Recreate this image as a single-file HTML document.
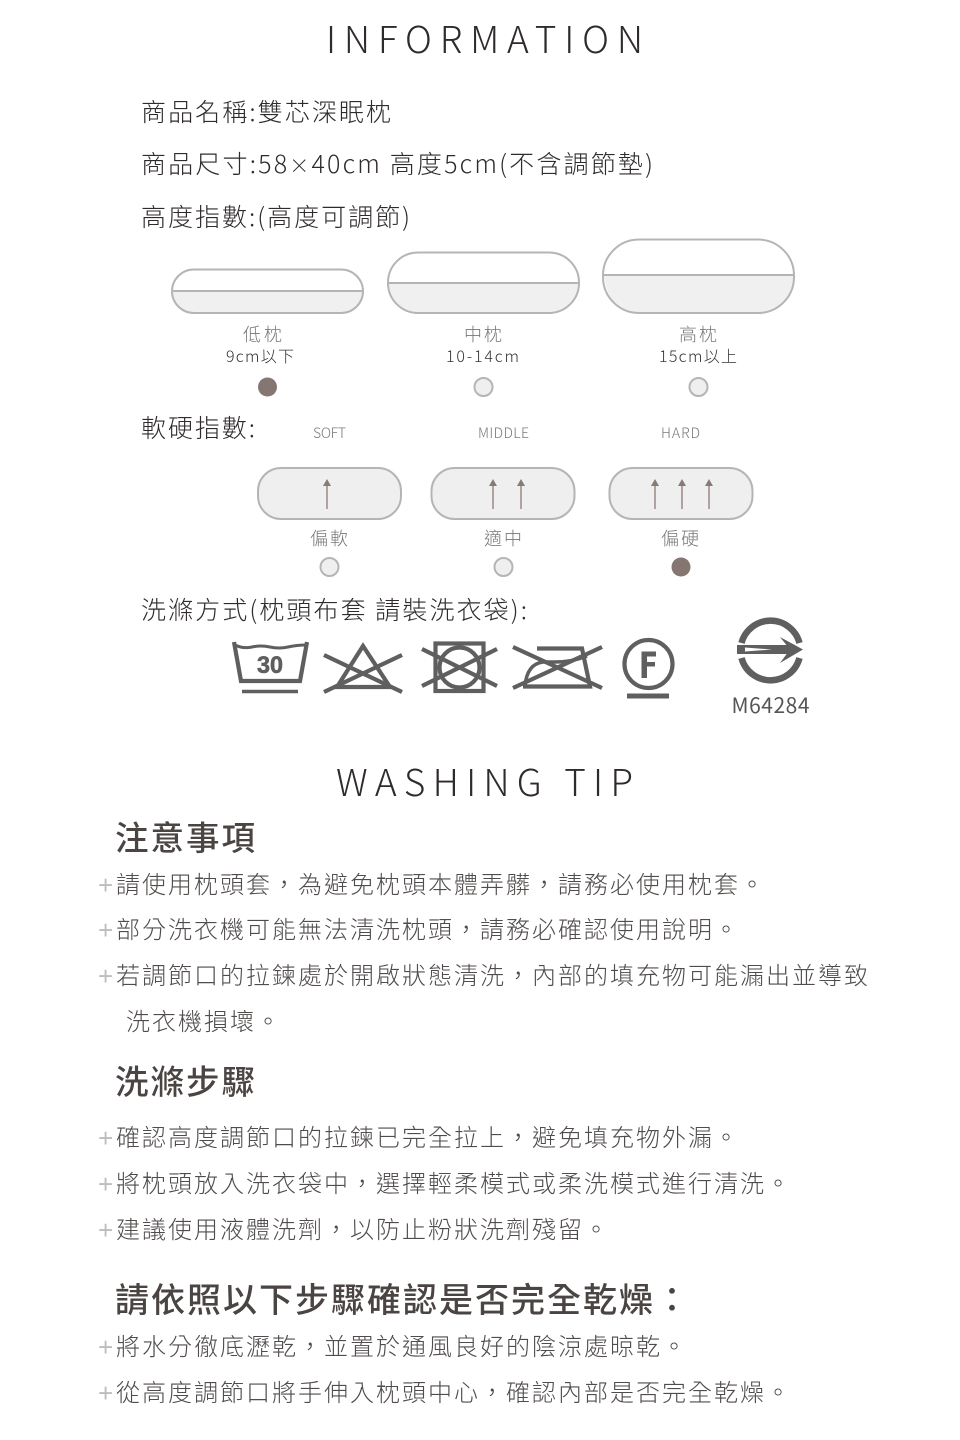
<!DOCTYPE html>
<html lang="zh-Hant"><head><meta charset="utf-8"><title>Information</title>
<style>
html,body{margin:0;padding:0;background:#fff;width:960px;height:1440px;overflow:hidden}
svg{display:block}
text{font-family:"Liberation Sans","Noto Sans CJK TC",sans-serif;fill:#4a4544;white-space:pre}
.n{font-family:"Noto Sans CJK TC","Liberation Sans",sans-serif;font-weight:300}
.t{font-size:37px;fill:#2f2b2a}
.u{font-size:25px;fill:#2f2b2b}
.b{font-size:24px;letter-spacing:2px;fill:#504c4b}
.h{font-size:33px;letter-spacing:2px;font-weight:500;fill:#4a4442}
.p text{font-size:26px;fill:#bdbdbd}
.l{font-size:18px;fill:#777;text-anchor:start}
.m{font-size:16px;fill:#333}
.s{font-size:14px;fill:#777}
.a{stroke:#8a7a76;stroke-width:1.3;fill:none}
.h2{fill:#8a7a76;stroke:none}
.ic{stroke:#5f5f5f;fill:none;stroke-width:4.200}
</style></head><body>
<svg xmlns="http://www.w3.org/2000/svg" width="960" height="1440" viewBox="0 0 960 1440">
<text class="n t" x="326" y="53" textLength="317" lengthAdjust="spacing">INFORMATION</text>
<text class="n u" x="141" y="121" textLength="250" lengthAdjust="spacing">商品名稱:雙芯深眠枕</text>
<text class="n u" x="141" y="173" textLength="512" lengthAdjust="spacing">商品尺寸:58<tspan style="font-size:20px">×</tspan>40cm 高度5cm(不含調節墊)</text>
<text class="n u" x="141" y="226" textLength="269" lengthAdjust="spacing">高度指數:(高度可調節)</text>

<!-- pillows -->
<g>
<path d="M172 291H363A22 22 0 0 1 341 313H193A22 22 0 0 1 172 291Z" fill="#f0f0f0"/>
<rect x="172" y="269.500" width="191" height="43.500" rx="22" fill="none" stroke="#b5b5b5" stroke-width="2"/>
<line x1="172" y1="291" x2="363" y2="291" stroke="#b5b5b5" stroke-width="2"/>
<path d="M389 283H579A30 30 0 0 1 549 313H418A30 30 0 0 1 389 283Z" fill="#f0f0f0"/>
<rect x="388" y="252.500" width="191" height="60.500" rx="30" fill="none" stroke="#b5b5b5" stroke-width="2"/>
<line x1="388" y1="283" x2="579" y2="283" stroke="#b5b5b5" stroke-width="2"/>
<path d="M604 275H794Q790 313 756 313H640Q608 313 604 275Z" fill="#f0f0f0"/>
<rect x="603" y="239.500" width="191" height="73.500" rx="36" fill="none" stroke="#b5b5b5" stroke-width="2"/>
<line x1="603" y1="275" x2="794" y2="275" stroke="#b5b5b5" stroke-width="2"/>
</g>
<text class="n l" x="243" y="341" textLength="39" lengthAdjust="spacing">低枕</text>
<text class="n l" x="464" y="341" textLength="38" lengthAdjust="spacing">中枕</text>
<text class="n l" x="679" y="341" textLength="38" lengthAdjust="spacing">高枕</text>
<text class="n m" x="226" y="362" textLength="68" lengthAdjust="spacing">9cm以下</text>
<text class="n m" x="446" y="362" textLength="73" lengthAdjust="spacing">10-14cm</text>
<text class="n m" x="659" y="362" textLength="78" lengthAdjust="spacing">15cm以上</text>
<circle cx="267.500" cy="387" r="9.500" fill="#857672"/>
<circle cx="483.500" cy="387" r="9" fill="#efefef" stroke="#b5b5b5" stroke-width="2"/>
<circle cx="698.500" cy="387" r="9" fill="#efefef" stroke="#b5b5b5" stroke-width="2"/>

<text class="n u" x="141" y="437" textLength="114" lengthAdjust="spacing">軟硬指數:</text>
<text class="n s" x="313" y="438" textLength="33" lengthAdjust="spacing">SOFT</text>
<text class="n s" x="478" y="438" textLength="51" lengthAdjust="spacing">MIDDLE</text>
<text class="n s" x="661" y="438" textLength="39" lengthAdjust="spacing">HARD</text>

<rect x="258" y="468" width="143" height="51" rx="23" fill="#efefef" stroke="#b5b5b5" stroke-width="2"/>
<rect x="431.500" y="468" width="143" height="51" rx="23" fill="#efefef" stroke="#b5b5b5" stroke-width="2"/>
<rect x="609.500" y="468" width="143" height="51" rx="23" fill="#efefef" stroke="#b5b5b5" stroke-width="2"/>
<g class="a">
<line x1="327" y1="484" x2="327" y2="509"/><line x1="493" y1="484" x2="493" y2="509"/><line x1="521" y1="484" x2="521" y2="509"/>
<line x1="655" y1="484" x2="655" y2="509"/><line x1="682" y1="484" x2="682" y2="509"/><line x1="709" y1="484" x2="709" y2="509"/>
</g>
<g class="h2">
<path d="M327 479l-4 7h8z"/><path d="M493 479l-4 7h8z"/><path d="M521 479l-4 7h8z"/>
<path d="M655 479l-4 7h8z"/><path d="M682 479l-4 7h8z"/><path d="M709 479l-4 7h8z"/>
</g>
<text class="n l" x="310" y="545" textLength="38" lengthAdjust="spacing">偏軟</text>
<text class="n l" x="484" y="545" textLength="38" lengthAdjust="spacing">適中</text>
<text class="n l" x="661" y="545" textLength="38" lengthAdjust="spacing">偏硬</text>
<circle cx="329.500" cy="567" r="9" fill="#efefef" stroke="#b5b5b5" stroke-width="2"/>
<circle cx="503.500" cy="567" r="9" fill="#efefef" stroke="#b5b5b5" stroke-width="2"/>
<circle cx="681" cy="567" r="9.500" fill="#857672"/>

<text class="n u" x="141" y="619" textLength="386" lengthAdjust="spacing">洗滌方式(枕頭布套 請裝洗衣袋):</text>

<!-- wash icons -->
<g class="ic">
<path d="M234 642L241 681H300L307 642"/>
<path d="M235 645Q243 649 252 647T270 647T288 647T306 645" stroke-width="3"/>
<line x1="242" y1="691.500" x2="298" y2="691.500" stroke-width="3.500"/>
<path d="M363 646L337 687H390Z"/>
<line x1="324" y1="655" x2="402" y2="692"/><line x1="402" y1="655" x2="324" y2="692"/>
<rect x="435.500" y="643.500" width="48" height="47.500"/>
<circle cx="459.500" cy="667.500" r="20"/>
<line x1="422" y1="649" x2="497" y2="686"/><line x1="497" y1="649" x2="422" y2="686"/>
<path d="M537 648.500H582L590 686.500H523"/>
<path d="M525 686Q527 664 543 662H555Q572 662 587 656" stroke-width="3.500"/>
<line x1="513" y1="647" x2="602" y2="688"/><line x1="602" y1="647" x2="513" y2="688"/>
<circle cx="648.500" cy="664" r="24"/>
<line x1="627" y1="696" x2="669" y2="696" stroke-width="5"/>
<path d="M741.500 643A30 30 0 0 1 799.500 643" stroke-width="6.500"/>
<path d="M741.500 658A30 30 0 0 0 799.500 658" stroke-width="6.500"/>
</g>
<path d="M641.500 651.500H656V656.500H647V662H655V666.500H647V678H641.500Z" fill="#5f5f5f"/>
<path d="M737 645H792V654H737Z" fill="#5f5f5f"/>
<path d="M780 637L803 649.500L780 663L790 649.500Z" fill="#5f5f5f"/>
<path d="M745 647.500L772 649.500L745 651.500Z" fill="#fff"/>
<text x="270" y="673" text-anchor="middle" style="font-size:24px;font-weight:700;fill:#5f5f5f;stroke:#5f5f5f;stroke-width:.6" textLength="26" lengthAdjust="spacingAndGlyphs">30</text>
<text class="n" x="731.500" y="713" textLength="78" lengthAdjust="spacing" style="font-size:21px;fill:#555;font-weight:400">M64284</text>

<text class="n t" x="336" y="796" textLength="297" lengthAdjust="spacing">WASHING TIP</text>

<text class="n h" x="115" y="850" style="font-size:33.500px">注意事項</text>
<g class="n p">
<text x="98" y="894">+</text><text x="98" y="939">+</text><text x="98" y="985">+</text>
<text x="98" y="1147">+</text><text x="98" y="1193">+</text><text x="98" y="1239">+</text>
<text x="98" y="1356">+</text><text x="98" y="1402">+</text>
</g>
<text class="n b" x="116" y="893">請使用枕頭套，為避免枕頭本體弄髒，請務必使用枕套。</text>
<text class="n b" x="116" y="938">部分洗衣機可能無法清洗枕頭，請務必確認使用說明。</text>
<text class="n b" x="116" y="984">若調節口的拉鍊處於開啟狀態清洗，內部的填充物可能漏出並導致</text>
<text class="n b" x="126" y="1030">洗衣機損壞。</text>
<text class="n h" x="115" y="1094" style="font-size:33.500px">洗滌步驟</text>
<text class="n b" x="116" y="1146">確認高度調節口的拉鍊已完全拉上，避免填充物外漏。</text>
<text class="n b" x="116" y="1192">將枕頭放入洗衣袋中，選擇輕柔模式或柔洗模式進行清洗。</text>
<text class="n b" x="116" y="1238">建議使用液體洗劑，以防止粉狀洗劑殘留。</text>
<text class="n h" x="115" y="1312" style="font-size:34px">請依照以下步驟確認是否完全乾燥：</text>
<text class="n b" x="116" y="1355">將水分徹底瀝乾，並置於通風良好的陰涼處晾乾。</text>
<text class="n b" x="116" y="1401">從高度調節口將手伸入枕頭中心，確認內部是否完全乾燥。</text>
</svg>
</body></html>
